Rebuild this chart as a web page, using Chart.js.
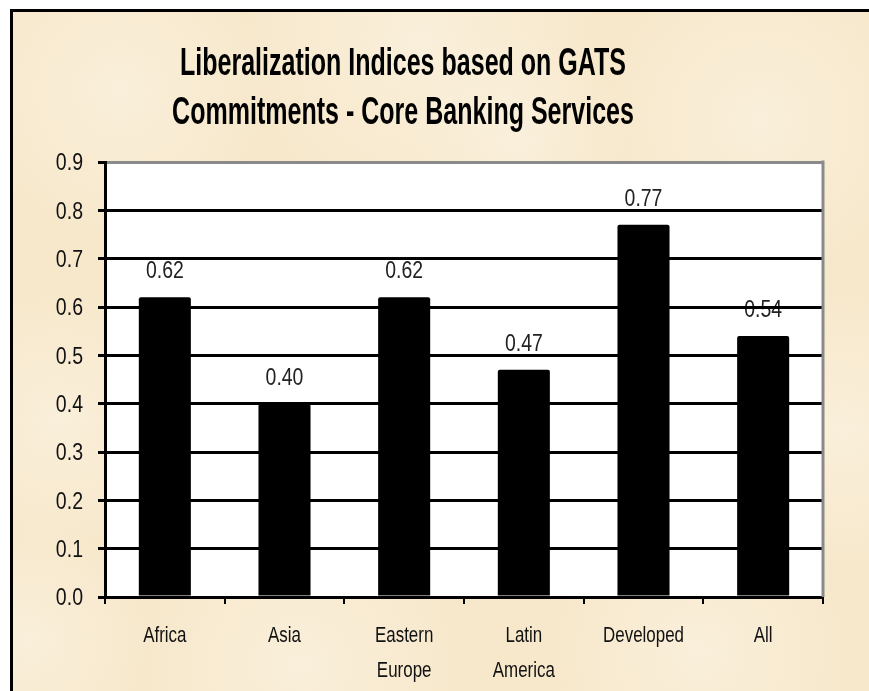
<!DOCTYPE html>
<html>
<head>
<meta charset="utf-8">
<script src="https://cdn.jsdelivr.net/npm/chart.js@4/dist/chart.umd.min.js"></script>
<style>
  html, body { margin: 0; padding: 0; background: #ffffff; }
  #chart { display: block; }
</style>
</head>
<body>
<canvas id="chart" width="869" height="691"></canvas>
<script>
// Regions and their liberalization index values
const categories = [['Africa'], ['Asia'], ['Eastern', 'Europe'], ['Latin', 'America'], ['Developed'], ['All']];
const indexValues = [0.62, 0.40, 0.62, 0.47, 0.77, 0.54];
const titleLines = ['Liberalization Indices based on GATS', 'Commitments - Core Banking Services'];
const yMin = 0;
const yMax = 0.9;
const yStep = 0.1;

const FACE = "'Liberation Sans', Arial, sans-serif";

// Draw text horizontally compressed, giving a narrow typeface look
function narrowText(ctx, text, x, y, size, sx, opts) {
  const o = opts || {};
  ctx.save();
  ctx.font = (o.weight || 'normal') + ' ' + size + 'px ' + FACE;
  ctx.fillStyle = o.color || '#111';
  ctx.textAlign = o.align || 'center';
  ctx.textBaseline = o.baseline || 'alphabetic';
  ctx.translate(x, y);
  ctx.scale(sx, 1);
  ctx.fillText(text, 0, 0);
  ctx.restore();
}

const decor = {
  id: 'decor',
  beforeDraw(chart) {
    const ctx = chart.ctx;
    const W = chart.width, H = chart.height;
    ctx.save();
    ctx.fillStyle = '#ffffff';
    ctx.fillRect(0, 0, W, H);
    // parchment panel
    const px = 11, py = 10;
    ctx.fillStyle = '#f7e8cb';
    ctx.fillRect(px, py, W - px, H - py);
    const spots = [
      [120, 90, 150], [420, 40, 180], [760, 120, 160], [60, 420, 130],
      [845, 430, 140], [300, 665, 160], [700, 650, 150], [520, 140, 110], [30, 640, 120]
    ];
    spots.forEach(([x, y, r]) => {
      const g = ctx.createRadialGradient(x, y, 0, x, y, r);
      g.addColorStop(0, 'rgba(251,242,225,0.7)');
      g.addColorStop(1, 'rgba(251,242,225,0)');
      ctx.fillStyle = g;
      ctx.fillRect(px, py, W - px, H - py);
    });
    // frame lines (top and left)
    ctx.fillStyle = '#000';
    ctx.fillRect(px - 1, py - 1, W - px + 1, 3);
    ctx.fillRect(px - 1, py - 1, 3, H - py + 1);

    // white plot panel
    const a = chart.chartArea;
    ctx.fillStyle = '#ffffff';
    ctx.fillRect(a.left, a.top, a.right - a.left, a.bottom - a.top);

    // value labels above each bar (the grid lines are drawn over them)
    const meta = chart.getDatasetMeta(0);
    meta.data.forEach((bar, i) => {
      narrowText(ctx, indexValues[i].toFixed(2), bar.x, bar.y - 19, 24, 0.81, { color: '#222' });
    });
    ctx.restore();
  },
  beforeDatasetsDraw(chart) {
    // grey right edge of the plot panel
    const a = chart.chartArea;
    const ctx = chart.ctx;
    ctx.save();
    ctx.strokeStyle = '#8a8a8a';
    ctx.lineWidth = 3;
    ctx.beginPath();
    ctx.moveTo(a.right, a.top - 1.5);
    ctx.lineTo(a.right, a.bottom);
    ctx.stroke();
    ctx.restore();
  },
  afterDraw(chart) {
    const ctx = chart.ctx;
    const a = chart.chartArea;
    // y tick labels
    const ys = chart.scales.y;
    ys.ticks.forEach((t) => {
      const py = ys.getPixelForValue(t.value);
      narrowText(ctx, Number(t.value).toFixed(1), a.left - 22, py + 2, 23, 0.85,
        { align: 'right', baseline: 'middle' });
    });
    // x category labels (one or two lines)
    const xs = chart.scales.x;
    categories.forEach((lines, i) => {
      const px = xs.getPixelForValue(i);
      lines.forEach((s, j) => {
        narrowText(ctx, s, px, a.bottom + 45 + j * 35, 22, 0.77);
      });
    });
    // two-line bold title
    ctx.save();
    ctx.font = "bold 39px " + FACE;
    const sx = 446 / ctx.measureText(titleLines[0]).width;
    ctx.restore();
    const baselines = [75, 124];
    titleLines.forEach((t, i) => {
      narrowText(ctx, t, 403, baselines[i], 39, sx, { weight: 'bold', color: '#000' });
    });
  }
};

new Chart(document.getElementById('chart'), {
  type: 'bar',
  data: {
    labels: categories,
    datasets: [{
      data: indexValues,
      backgroundColor: '#000000',
      borderWidth: 0,
      borderRadius: 2,
      barPercentage: 0.435,
      categoryPercentage: 1.0
    }]
  },
  options: {
    responsive: false,
    animation: false,
    devicePixelRatio: 1,
    layout: { padding: { left: 30, right: 46, top: 162, bottom: 0 } },
    plugins: {
      legend: { display: false },
      title: { display: false },
      tooltip: { enabled: false }
    },
    scales: {
      x: {
        afterFit(scale) { scale.height = 94; },
        grid: {
          display: true,
          drawOnChartArea: false,
          drawTicks: true,
          tickLength: 7,
          color: '#000',
          lineWidth: 2,
          offset: true
        },
        border: { display: true, color: '#000', width: 3 },
        ticks: { display: false, autoSkip: false }
      },
      y: {
        min: yMin,
        max: yMax,
        afterFit(scale) { scale.width = 75; },
        grid: {
          color: (c) => (c.tick && Math.abs(c.tick.value - yMax) < 1e-9) ? '#8a8a8a' : '#000',
          tickColor: '#000',
          lineWidth: 3,
          tickLength: 7,
          drawTicks: true
        },
        border: { display: true, color: '#000', width: 3 },
        ticks: {
          display: false,
          stepSize: yStep,
          callback: (v) => Number(v).toFixed(1)
        }
      }
    }
  },
  plugins: [decor]
});
</script>
</body>
</html>
